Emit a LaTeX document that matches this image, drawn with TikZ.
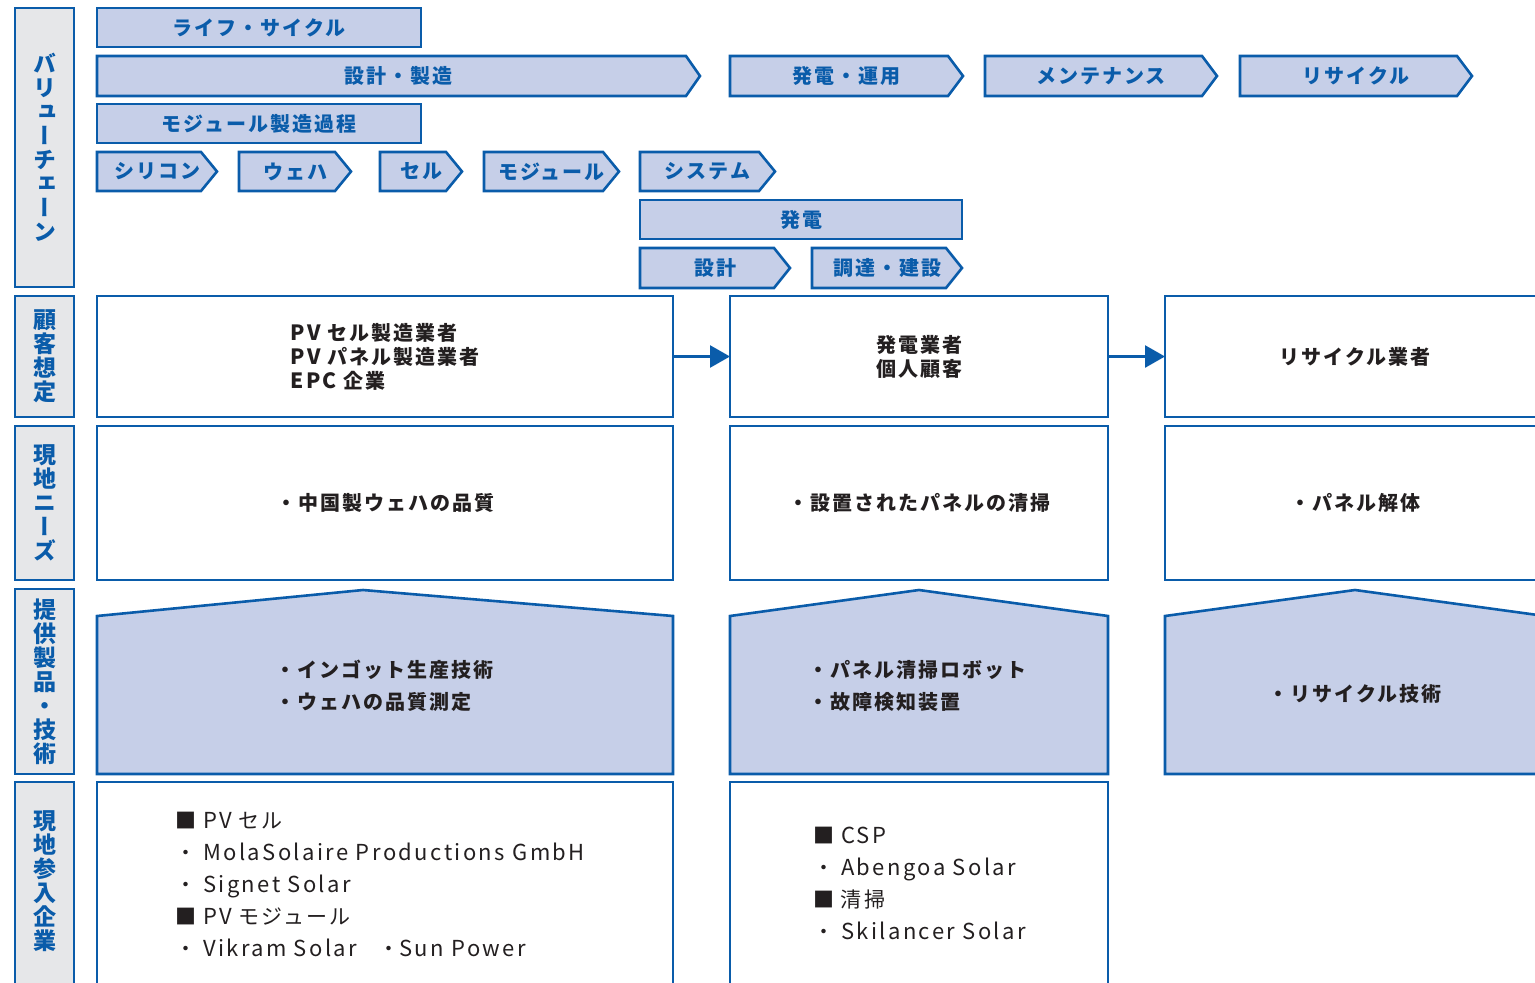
\documentclass[tikz,border=0pt]{standalone}
\usepackage{fontspec}
\setmainfont{Noto Sans CJK JP}[LetterSpace=10]
\newfontfamily\vfont{Noto Sans CJK JP}[RawFeature=+vert]
\newcommand\med{\bfseries}
\newcommand\lat[1]{{\fontsize{22}{32}\selectfont\addfontfeatures{LetterSpace=11}#1}}
\newcommand\latb[1]{{\fontsize{21}{24}\selectfont\addfontfeatures{LetterSpace=10}#1}}
\usetikzlibrary{arrows.meta}
\definecolor{vblue}{HTML}{0A5CAA}
\definecolor{vfill}{HTML}{C6CFE8}
\definecolor{vgray}{HTML}{E6E7E9}
\definecolor{vtext}{HTML}{231F20}
\tikzset{
  lab/.style={draw=vblue, fill=vgray, line width=2.6pt, inner sep=0pt, outer sep=0pt},
  labtext/.style={text=vblue, font=\vfont\bfseries\fontsize{23}{24}\selectfont, align=center, inner sep=0pt},
  box/.style={draw=vblue, fill=white, line width=2.6pt, inner sep=0pt, outer sep=0pt,
    text=vtext, font=\fontsize{20}{24}\selectfont\med, align=left},
  band/.style={draw=vblue, fill=vfill, line width=2.6pt},
  bandtext/.style={text=vblue, font=\bfseries\fontsize{20}{22}\selectfont, inner sep=0pt},
  body/.style={text=vtext, font=\fontsize{20}{32}\selectfont\med, align=left, inner sep=0pt},
  listtext/.style={text=vtext, font=\fontsize{21}{32}\selectfont, align=left, inner sep=0pt},
  conn/.style={draw=vblue, line width=2.6pt, -{Triangle[length=20pt,width=22pt]}},
}
\newcommand\chev[7]{%
  \draw[band] (#2,#3) -- (#4,#3) -- (#5,{(#3+#6)/2}) -- (#4,#6) -- (#2,#6) -- cycle;
  \node[bandtext] (#1) at ({(#2+#5)/2},{(#3+#6)/2}) {#7};}
\newcommand\bandrect[6]{%
  \node[band, inner sep=0pt, minimum width={(#4-#2)*1pt}, minimum height={(#5-#3)*1pt}] (#1) at ({(#2+#4)/2},{(#3+#5)/2}) {};
  \node[bandtext] (#1t) at (#1.center) {#6};}
\begin{document}
\begin{tikzpicture}[x=1pt,y=-1pt]
\useasboundingbox (0,0) rectangle (1535,983);
% left labels
\node[lab, minimum width=59pt, minimum height=279pt] (Lvc) at (44.5,147.5) {};
\node[labtext] (Lvct) at (Lvc.center) {バ\\リ\\ュ\\ー\\チ\\ェ\\ー\\ン};
\node[lab, minimum width=59pt, minimum height=121pt] (Lcu) at (44.5,356.5) {};
\node[labtext] (Lcut) at (Lcu.center) {顧\\客\\想\\定};
\node[lab, minimum width=59pt, minimum height=154pt] (Lne) at (44.5,503) {};
\node[labtext] (Lnet) at (Lne.center) {現\\地\\ニ\\ー\\ズ};
\node[lab, minimum width=59pt, minimum height=185pt] (Lpr) at (44.5,681.5) {};
\node[labtext] (Lprt) at (Lpr.center) {提\\供\\製\\品\\・\\技\\術};
\node[lab, minimum width=59pt, minimum height=223pt] (Lco) at (44.5,893.5) {};
\node[labtext] (Lcot) at (44.5,881) {現\\地\\参\\入\\企\\業};
% value chain bands
\bandrect{lc}{97}{8}{421}{47}{ライフ・サイクル}
\chev{dm}{97}{56}{686}{700}{96}{設計・製造}
\chev{op}{730}{56}{948}{963}{96}{発電・運用}
\chev{mt}{985}{56}{1202}{1217}{96}{メンテナンス}
\chev{rc}{1240}{56}{1457}{1472}{96}{リサイクル}
\bandrect{mp}{97}{104}{421}{143}{モジュール製造過程}
\chev{si}{97}{152}{201}{217}{191}{シリコン}
\chev{wf}{239}{152}{335}{351}{191}{ウェハ}
\chev{ce}{380}{152}{446}{462}{191}{セル}
\chev{mo}{484}{152}{603}{619}{191}{モジュール}
\chev{sy}{640}{152}{759}{775}{191}{システム}
\bandrect{pg}{640}{200}{962}{239}{発電}
\chev{ds}{640}{248}{774}{790}{288}{設計}
\chev{pc}{812}{248}{946}{962}{288}{調達・建設}
% row 1: customers
\node[box, minimum width=576pt, minimum height=121pt] (c1) at (385,356.5) {\latb{PV} セル製造業者\\\latb{PV} パネル製造業者\\\latb{EPC} 企業};
\node[box, minimum width=378pt, minimum height=121pt, align=center] (c2) at (919,356.5) {発電業者\\個人顧客};
\node[box, minimum width=380pt, minimum height=121pt, align=center] (c3) at (1355,356.5) {リサイクル業者};
\draw[conn] (c1) -- (c2);
\draw[conn] (c2) -- (c3);
% row 2: needs
\node[box, minimum width=576pt, minimum height=154pt] (n1) at (385,503) {・中国製ウェハの品質};
\node[box, minimum width=378pt, minimum height=154pt] (n2) at (919,503) {・設置されたパネルの清掃};
\node[box, minimum width=380pt, minimum height=154pt] (n3) at (1355,503) {・パネル解体};
% row 3: products
\draw[band] (97,616) -- (363,590) -- (673,616) -- (673,774) -- (97,774) -- cycle;
\draw[band] (730,616) -- (919,590) -- (1108,616) -- (1108,774) -- (730,774) -- cycle;
\draw[band] (1165,616) -- (1355,590) -- (1545,616) -- (1545,774) -- (1165,774) -- cycle;
\node[body] (p1) at (384,686) {・インゴット生産技術\\・ウェハの品質測定};
\node[body] (p2) at (917,686) {・パネル清掃ロボット\\・故障検知装置};
\node[body] (p3) at (1355,694) {・リサイクル技術};
% row 4: companies
\node[box, minimum width=576pt, minimum height=223pt] (e1) at (385,893.5) {};
\node[box, minimum width=378pt, minimum height=223pt] (e2) at (919,893.5) {};
\node[listtext, anchor=west] (e1t) at (175,884) {■ \lat{PV} セル\\・ \lat{MolaSolaire Productions GmbH}\\・ \lat{Signet Solar}\\■ \lat{PV} モジュール\\・ \lat{Vikram Solar}\quad ・\lat{Sun Power}};
\node[listtext, anchor=west] (e2t) at (813,883) {■ \lat{CSP}\\・ \lat{Abengoa Solar}\\■ 清掃\\・ \lat{Skilancer Solar}};
\end{tikzpicture}
\end{document}
